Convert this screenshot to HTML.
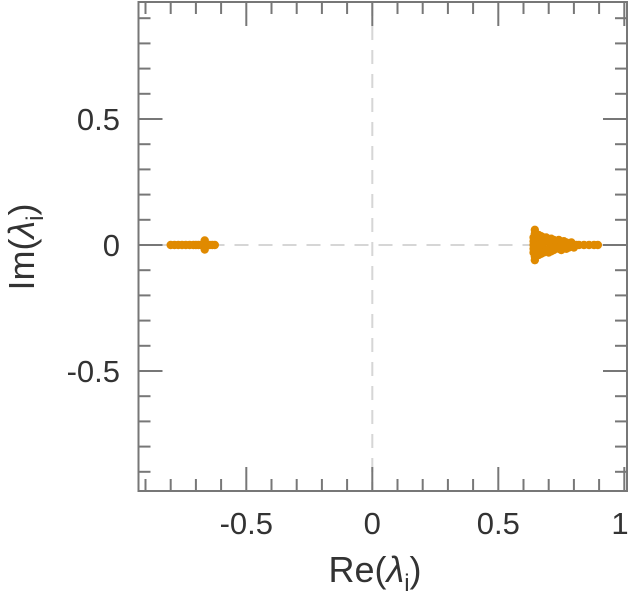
<!DOCTYPE html>
<html><head><meta charset="utf-8"><style>
html,body{margin:0;padding:0;background:#fff;}
svg{display:block;font-family:"Liberation Sans",sans-serif;}
</style></head><body>
<svg id="chart" width="634" height="600">
<rect x="0" y="0" width="634" height="600" fill="#fff"/>
<g id="guides"></g>
<g id="points"></g>
<g id="axes"></g>
<text x="375" y="582" font-size="36" text-anchor="middle" fill="#333">Re(<tspan font-style="italic">λ</tspan><tspan font-size="24" dy="9">i</tspan><tspan dy="-9">)</tspan></text>
<text transform="translate(34,247) rotate(-90)" font-size="36" text-anchor="middle" fill="#333">Im(<tspan font-style="italic">λ</tspan><tspan font-size="24" dy="9">i</tspan><tspan dy="-9">)</tspan></text>
</svg>
<script>
const reVals=[-0.80,-0.785,-0.77,-0.755,-0.74,-0.725,-0.71,-0.70,-0.69,-0.68,-0.67,-0.665,-0.665,-0.665,-0.655,-0.645,-0.635,-0.625,
0.64,0.64,0.64,0.64,0.64,0.645,0.645,0.645,0.645,0.65,0.65,0.65,0.65,0.655,0.655,0.66,0.66,0.66,0.665,0.665,0.67,0.67,0.67,0.675,0.675,0.68,0.68,0.68,0.69,0.69,0.69,0.70,0.70,0.70,0.71,0.71,0.71,0.72,0.72,0.72,0.73,0.73,0.74,0.74,0.75,0.75,0.76,0.76,0.77,0.77,0.78,0.79,0.80,0.81,0.82,0.84,0.86,0.88,0.895];
const imVals=[0,0,0,0,0,0,0,0,0,0,0,0,0.018,-0.018,0,0,0,0,
0,0.015,-0.015,0.03,-0.03,0.045,-0.045,0.06,-0.06,0,0.02,-0.02,0.04,0.01,-0.01,0.04,-0.04,0.02,-0.02,0.005,0.035,-0.035,0.015,-0.015,0.025,0.03,-0.03,0.01,0.02,-0.02,0.03,-0.03,0.015,-0.015,0.025,-0.025,0.005,0.02,-0.02,0.01,-0.01,0.015,-0.015,0.02,-0.02,0.01,-0.01,0.015,-0.015,0.01,-0.01,0.01,-0.01,0,0,0,0,0,0];
const xTickLabels=["-0.5","0","0.5","1"];
const xTickValues=[-0.5,0,0.5,1];
const yTickLabels=["0.5","0","-0.5"];
const yTickValues=[0.5,0,-0.5];
const X0=372.3,Y0=245,S=252;
const L=138.5,R=627,T=2,B=491;
const sx=v=>X0+v*S, sy=v=>Y0-v*S;
const NS="http://www.w3.org/2000/svg";
function mk(tag,attrs,parent){const e=document.createElementNS(NS,tag);for(const k in attrs)e.setAttribute(k,attrs[k]);parent.appendChild(e);return e;}
const guides=document.getElementById('guides'),pts=document.getElementById('points'),axes=document.getElementById('axes');
let g=mk('line',{x1:L,x2:R,y1:sy(0),y2:sy(0),stroke:'#d6d6d6','stroke-width':2,'stroke-dasharray':'14,10'},guides);


g=mk('line',{x1:sx(0),x2:sx(0),y1:T,y2:B,stroke:'#d6d6d6','stroke-width':2,'stroke-dasharray':'14,10'},guides);


for(let i=0;i<reVals.length;i++){
  const c=mk('circle',{cx:sx(reVals[i]),cy:sy(imVals[i]),r:4.2,fill:'#e08a00'},pts);
  
  
}
const fr=mk('rect',{x:L,y:T,width:R-L,height:B-T,fill:'none',stroke:'#777','stroke-width':2},axes);


for(let k=-9;k<=10;k++){
  const v=k/10,x=sx(v);if(x<L||x>R)continue;const len=(k%5===0)?24:12;
  mk('line',{x1:x,x2:x,y1:B,y2:B-len,stroke:'#777','stroke-width':2},axes);
  mk('line',{x1:x,x2:x,y1:T,y2:T+len,stroke:'#777','stroke-width':2},axes);
}
for(let k=-9;k<=9;k++){
  const v=k/10,y=sy(v);if(y<T||y>B)continue;const len=(k%5===0)?24:12;
  mk('line',{x1:L,x2:L+len,y1:y,y2:y,stroke:'#777','stroke-width':2},axes);
  mk('line',{x1:R,x2:R-len,y1:y,y2:y,stroke:'#777','stroke-width':2},axes);
}
xTickLabels.forEach((t,i)=>{const e=mk('text',{x:Math.min(sx(xTickValues[i]),620),y:534,'font-size':31,'text-anchor':'middle',fill:'#333'},axes);e.textContent=t;
  
  });
yTickLabels.forEach((t,i)=>{const e=mk('text',{x:120,y:sy(yTickValues[i])+11,'font-size':31,'text-anchor':'end',fill:'#333'},axes);e.textContent=t;
  
  });
</script>
</body></html>
